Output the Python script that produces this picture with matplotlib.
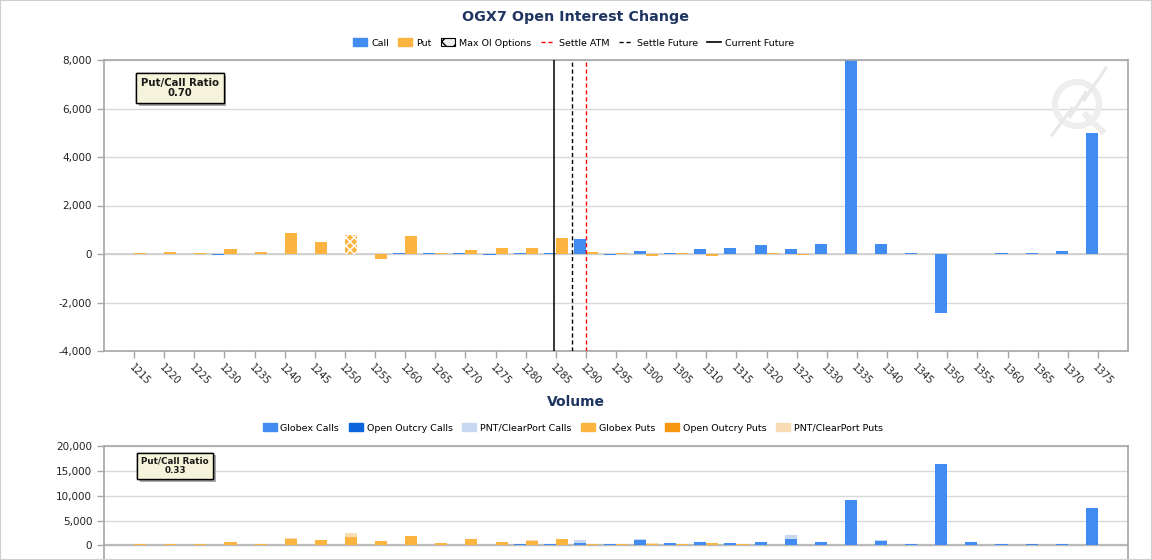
import numpy as np
import matplotlib
matplotlib.use('Agg')
import matplotlib.pyplot as plt
import matplotlib.patheffects as pe
from matplotlib.patches import Patch, Rectangle, Circle
from matplotlib.lines import Line2D
from matplotlib.transforms import IdentityTransform

plt.rcParams['font.family'] = ['DejaVu Sans']
plt.rcParams['axes.unicode_minus'] = False

# strikes (categories)
strikes = [1215, 1220, 1225, 1230, 1235, 1240, 1245, 1250, 1255, 1260, 1265,
           1270, 1275, 1280, 1285, 1290, 1295, 1300, 1305, 1310, 1315, 1320,
           1325, 1330, 1335, 1340, 1345, 1350, 1355, 1360, 1365, 1370, 1375]

# open interest change
oi_call = [10, 0, 0, -30, 0, 0, 0, 0, 0, 50, 40,
           40, -30, 40, 40, 620, -30, 120, 40, 210, 250, 370,
           210, 410, 8000, 410, 40, -2450, -20, 40, 40, 120, 5000]
oi_put = [50, 100, 30, 200, 100, 860, 490, 790, -200, 750, 40,
          160, 250, 250, 660, 80, 30, -70, 40, -70, -20, 30,
          -30, 0, 0, 0, 0, 0, 0, 0, 0, 0, 0]
max_oi_strike = 1250

settle_atm = 1290
settle_future = 1287.7
current_future = 1284.75

oi_ratio = '0.70'
vol_ratio = '0.33'

# volume
globex_calls = [0, 0, 0, 0, 0, 0, 0, 0, 0, 0, 0,
                0, 0, 270, 270, 470, 270, 1070, 470, 670, 470, 670,
                1270, 670, 9100, 870, 270, 16300, 670, 270, 270, 270, 7490]
outcry_calls = [0] * 33
pnt_calls = [0, 0, 0, 0, 0, 0, 0, 0, 0, 0, 0,
             0, 0, 0, 0, 600, 0, 200, 0, 0, 0, 0,
             800, 0, 0, 200, 0, 0, 0, 0, 0, 0, 0]
globex_puts = [300, 300, 300, 700, 300, 1340, 1130, 1740, 940, 1940, 540,
               1270, 670, 930, 1270, 270, 270, 270, 270, 470, 270, 0,
               0, 0, 0, 0, 0, 0, 0, 0, 0, 0, 0]
outcry_puts = [0] * 33
pnt_puts = [0, 0, 0, 0, 0, 200, 0, 800, 0, 0, 0,
            0, 0, 200, 0, 0, 0, 200, 0, 0, 0, 0,
            0, 0, 0, 0, 0, 0, 0, 0, 0, 0, 0]

CALL = '#418CF0'
PUT = '#FCB441'
OO_CALL = '#0A64DC'
OO_PUT = '#F7960F'
PNT_CALL = '#C8D8F0'
PNT_PUT = '#F7DCB4'
NAVY = '#1F3460'
GRID = '#D9D9D9'
SPINE = '#A6A6A6'

W, H = 1152, 560
fig = plt.figure(figsize=(W / 100, H / 100), dpi=100)
fig.patch.set_facecolor('white')


def style_axes(ax):
    for s in ax.spines.values():
        s.set_color(SPINE)
        s.set_linewidth(1.2)
    ax.tick_params(axis='both', colors=SPINE, labelcolor='#222222',
                   labelsize=7.5, length=5, width=1)
    ax.yaxis.grid(True, color=GRID, lw=1)
    ax.set_axisbelow(True)
    ax.yaxis.set_major_formatter(matplotlib.ticker.StrMethodFormatter('{x:,.0f}'))


def to_idx(v):
    return (v - strikes[0]) / (strikes[1] - strikes[0])


x = np.arange(len(strikes))
bw = 0.4

# ---- top chart: open interest change
ax1 = fig.add_axes([104 / W, 1 - 351 / H, 1024 / W, 291 / H])
style_axes(ax1)
bars_c = ax1.bar(x - bw / 2, oi_call, bw, color=CALL, zorder=2)
bars_p = ax1.bar(x + bw / 2, oi_put, bw, color=PUT, zorder=2)
mi = strikes.index(max_oi_strike)
bars_p[mi].set_hatch('xxxx')
bars_p[mi].set_edgecolor('white')
bars_p[mi].set_linewidth(0)
ax1.axhline(0, color='#CCCCCC', lw=1.2, zorder=1)
ax1.axvline(to_idx(current_future), color='black', lw=1.1, zorder=3)
ax1.axvline(to_idx(settle_future), color='black', lw=1.0, ls=(0, (3, 2)), zorder=3)
ax1.axvline(to_idx(settle_atm), color='red', lw=1.0, ls=(0, (3, 2)), zorder=3)
ax1.set_xlim(-1, len(strikes))
ax1.set_ylim(-4000, 8000)
ax1.set_yticks(np.arange(-4000, 8001, 2000))
ax1.set_xticks(x)
ax1.set_xticklabels([str(s) for s in strikes], rotation=-45, ha='left', va='top',
                    rotation_mode='anchor', fontsize=7)
ax1.tick_params(axis='x', pad=3)

# ---- bottom chart: volume
ax2 = fig.add_axes([104 / W, 0, 1024 / W, 114 / H])
style_axes(ax2)
ax2.spines['bottom'].set_visible(False)
gc = np.array(globex_calls)
oc = np.array(outcry_calls)
gp = np.array(globex_puts)
op = np.array(outcry_puts)
ax2.bar(x - bw / 2, gc, bw, color=CALL, zorder=2)
ax2.bar(x - bw / 2, oc, bw, bottom=gc, color=OO_CALL, zorder=2)
ax2.bar(x - bw / 2, pnt_calls, bw, bottom=gc + oc, color=PNT_CALL, zorder=2)
ax2.bar(x + bw / 2, gp, bw, color=PUT, zorder=2)
ax2.bar(x + bw / 2, op, bw, bottom=gp, color=OO_PUT, zorder=2)
ax2.bar(x + bw / 2, pnt_puts, bw, bottom=gp + op, color=PNT_PUT, zorder=2)
ax2.axhline(0, color='#BBBBBB', lw=1.6, zorder=1)
ax2.set_xlim(-1, len(strikes))
ax2.set_ylim(-2950, 20000)
ax2.set_yticks(np.arange(0, 20001, 5000))
ax2.set_xticks([])

# ---- titles and legends
fig.text(0.5, 1 - 17 / H, 'OGX7 Open Interest Change', ha='center', va='center',
         fontsize=10.3, weight='bold', color=NAVY)
fig.text(0.5, 1 - 402 / H, 'Volume', ha='center', va='center',
         fontsize=10, weight='bold', color=NAVY)

h1 = [Patch(color=CALL), Patch(color=PUT),
      Patch(facecolor='#EEEEEE', edgecolor='black', hatch='xx', lw=0.8),
      Line2D([], [], color='red', lw=1, ls=(0, (3, 2))),
      Line2D([], [], color='black', lw=1, ls=(0, (3, 2))),
      Line2D([], [], color='black', lw=1.2)]
l1 = ['Call', 'Put', 'Max OI Options', 'Settle ATM', 'Settle Future', 'Current Future']
fig.legend(h1, l1, loc='center', bbox_to_anchor=(0.498, 1 - 43 / H), ncol=6,
           frameon=False, fontsize=6.8, handlelength=1.5, handleheight=0.9,
           handletextpad=0.4, columnspacing=1.0)

h2 = [Patch(color=c) for c in [CALL, OO_CALL, PNT_CALL, PUT, OO_PUT, PNT_PUT]]
l2 = ['Globex Calls', 'Open Outcry Calls', 'PNT/ClearPort Calls',
      'Globex Puts', 'Open Outcry Puts', 'PNT/ClearPort Puts']
fig.legend(h2, l2, loc='center', bbox_to_anchor=(0.497, 1 - 428 / H), ncol=6,
           frameon=False, fontsize=6.8, handlelength=1.5, handleheight=0.9,
           handletextpad=0.4, columnspacing=1.0)

# put/call ratio boxes
for (px, py, txt, fs) in [(180, 88, 'Put/Call Ratio\n' + oi_ratio, 7.3),
                          (175, 466, 'Put/Call Ratio\n' + vol_ratio, 6.3)]:
    t = fig.text(px / W, 1 - py / H, txt, ha='center', va='center', fontsize=fs,
                 weight='bold', color='#1A1A1A', linespacing=1.1,
                 bbox=dict(boxstyle='square,pad=0.45', fc='#F5F4DA', ec='black', lw=1))
    t.get_bbox_patch().set_path_effects([
        pe.withSimplePatchShadow(offset=(2, -2), shadow_rgbFace='#888888', alpha=0.7),
        pe.Normal()])

# faint watermark logo
idt = IdentityTransform()
fig.add_artist(Circle((1077, H - 104), 22, transform=idt, fill=False,
                      ec='#EEEEEE', lw=4.5, zorder=0.5))
fig.add_artist(Line2D([1086, 1102], [H - 115, H - 131], transform=idt,
                      color='#EEEEEE', lw=4.5, zorder=0.5))
fig.add_artist(Line2D([1052, 1072, 1070, 1086, 1084, 1106],
                      [H - 135, H - 108, H - 117, H - 92, H - 100, H - 68],
                      transform=idt, color='#E8E8E8', lw=2.2, zorder=0.5))

# outer frame
fig.add_artist(Rectangle((0, 0), 1, 1, transform=fig.transFigure, fill=False,
                         ec='#D0D0D0', lw=1.5))

fig.savefig('out.png', dpi=100)
